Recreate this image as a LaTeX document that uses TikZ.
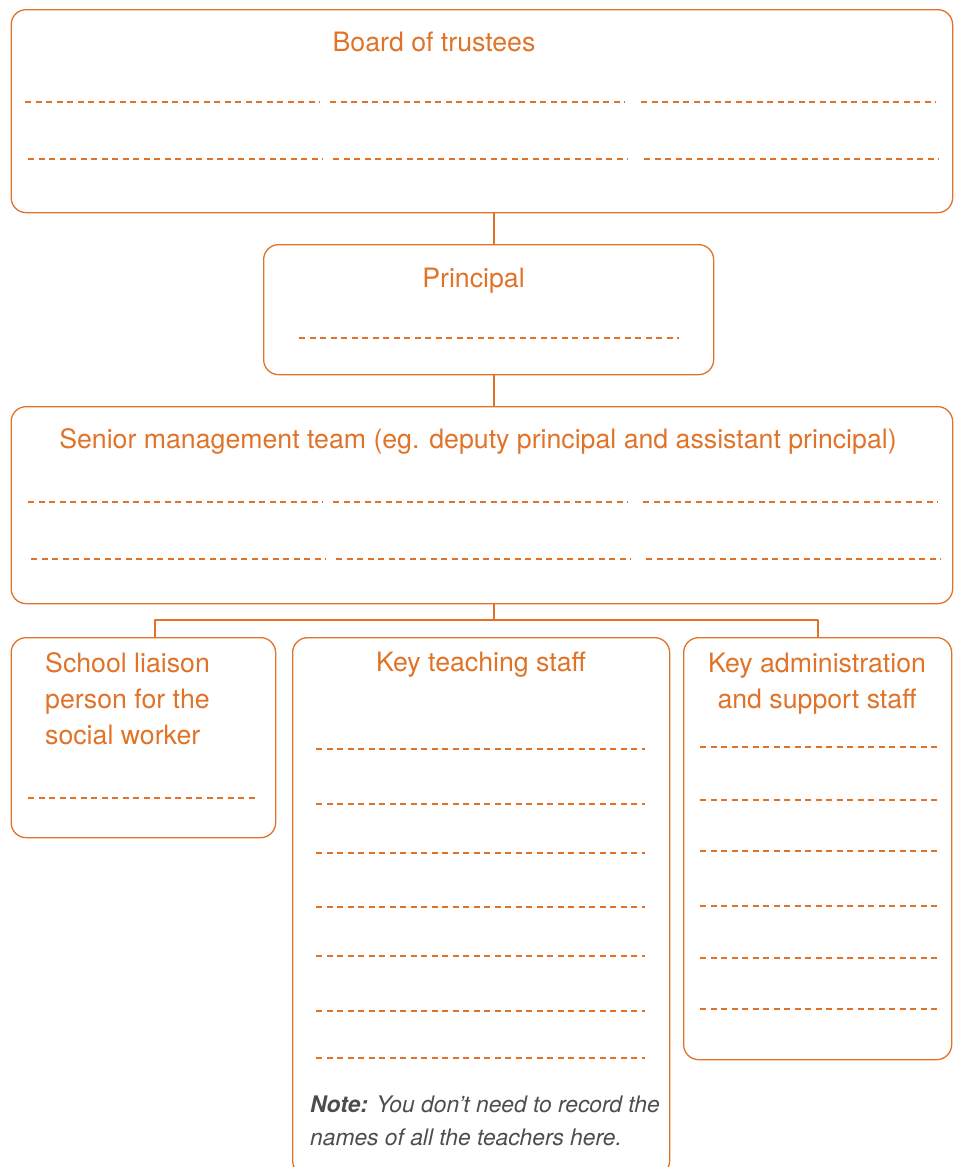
\documentclass[tikz,border=0pt]{standalone}
\usepackage{fontspec}
\setmainfont{TeX Gyre Heros}
\definecolor{orng}{HTML}{E07328}
\definecolor{notegray}{HTML}{4D4D4D}
\begin{document}
\begin{tikzpicture}[x=1pt, y=-1pt, line join=round,
    box/.style={draw=orng, line width=1.3pt, rounded corners=15pt, anchor=north west, inner sep=0pt},
    title/.style={text=orng, font=\fontsize{26.7}{36}\selectfont, inner sep=0pt},
    blank/.style={draw=orng, line width=1.1pt, dash pattern=on 6pt off 4.5pt},
    link/.style={draw=orng, line width=1.3pt}]
    \useasboundingbox (0,0) rectangle (960,1167);
    % boxes
    \node[box, minimum width=941.5pt, minimum height=203pt] (board) at (10.5,9) {};
    \node[box, minimum width=450pt, minimum height=130pt] (principal) at (263,244) {};
    \node[box, minimum width=941.5pt, minimum height=197pt] (senior) at (10.5,406) {};
    \node[box, minimum width=264.5pt, minimum height=200pt] (liaison) at (10.5,637) {};
    \node[box, minimum width=377pt, minimum height=538pt] (teaching) at (292,637) {};
    \node[box, minimum width=268pt, minimum height=422pt] (admin) at (683,637) {};
    % titles (base of a multi-line node = its last line)
    \node[title, anchor=base] (boardT) at (434,51) {Board of trustees};
    \node[title, anchor=base] (principalT) at (473.5,287) {Principal};
    \node[title, anchor=base] (seniorT) at (478,448) {Senior management team (eg. deputy principal and assistant principal)};
    \node[title, anchor=base west, align=left] (liaisonT) at (45,744) {School liaison\\person for the\\social worker};
    \node[title, anchor=base] (teachingT) at (481,671) {Key teaching staff};
    \node[title, anchor=base, align=center] (adminT) at (817,708) {Key administration\\and support staff};
    \node[anchor=base west, align=left, text=notegray, inner sep=0pt,
        font=\fontsize{22.8}{33}\selectfont\itshape] (note) at (310,1145)
        {\textbf{Note:} You don't need to record the\\names of all the teachers here.};
    % lines to write on
    \foreach \y/\dx in {102/0, 159/3}
        \foreach \xa in {25,330,641}
            \draw[blank] (\xa+\dx,\y) -- (\xa+\dx+295,\y);
    \foreach \y/\dx in {502/0, 559/3}
        \foreach \xa in {28,333,643}
            \draw[blank] (\xa+\dx,\y) -- (\xa+\dx+295,\y);
    \draw[blank] (299,338) -- (679,338);
    \draw[blank] (28,798) -- (258,798);
    \foreach \y in {749,804,853,907,956,1011,1058}
        \draw[blank] (316,\y) -- (645,\y);
    \foreach \y in {747,800,851,906,958,1009}
        \draw[blank] (700,\y) -- (937,\y);
    % connectors
    \coordinate (trunk) at (494,0);
    \coordinate (forkL) at (155,620);
    \coordinate (forkR) at (818,620);
    \draw[link] (board.south -| trunk) -- (principal.north -| trunk);
    \draw[link] (principal.south -| trunk) -- (senior.north -| trunk);
    \draw[link] (senior.south -| trunk) -- (trunk |- forkL);
    \draw[link] (liaison.north -| forkL) -- (forkL) -- (forkR) -- (admin.north -| forkR);
\end{tikzpicture}
\end{document}
